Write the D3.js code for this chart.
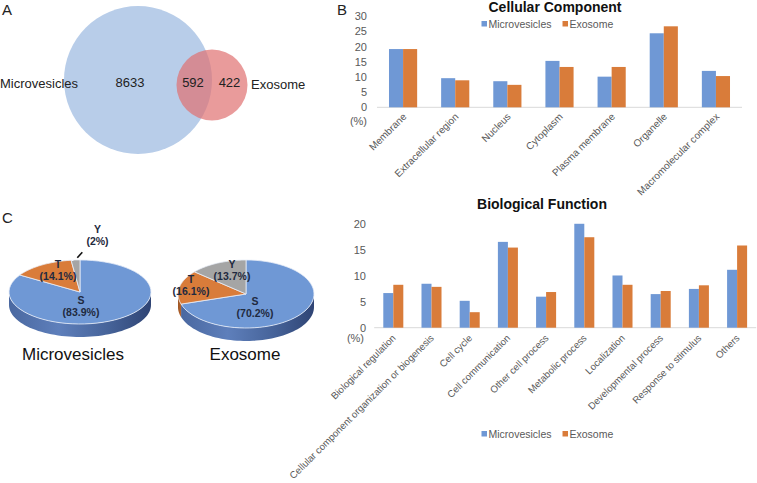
<!DOCTYPE html>
<html>
<head>
<meta charset="utf-8">
<script src="https://cdn.jsdelivr.net/npm/d3@7/dist/d3.min.js"></script>
<style>
  html, body { margin: 0; padding: 0; background: #fff; }
  svg { display: block; font-family: "Liberation Sans", Arial, sans-serif; }
</style>
</head>
<body>
<svg id="chart" width="757" height="483"></svg>
<script>
// ---------------- DATA ----------------
const vennSetNames = ["Microvesicles", "Exosome"];
const vennCounts = [8633, 592, 422]; // only microvesicles, shared, only exosome

const seriesNames = ["Microvesicles", "Exosome"];

const ccCategories = ["Membrane", "Extracellular region", "Nucleus", "Cytoplasm", "Plasma membrane", "Organelle", "Macromolecular complex"];
const ccMicro = [19.2, 9.6, 8.6, 15.3, 10.1, 24.4, 12.0];
const ccExo   = [19.2, 8.9, 7.4, 13.3, 13.3, 26.7, 10.3];
const ccTicks = [0, 5, 10, 15, 20, 25, 30];

const bfCategories = ["Biological regulation", "Cellular component organization or biogenesis", "Cell cycle", "Cell communication", "Other cell process", "Metabolic process", "Localization", "Developmental process", "Response to stimulus", "Others"];
const bfMicro = [6.7, 8.5, 5.2, 16.6, 6.0, 20.1, 10.1, 6.5, 7.5, 11.2];
const bfExo   = [8.3, 7.9, 3.0, 15.5, 6.9, 17.5, 8.3, 7.1, 8.2, 15.9];
const bfTicks = [0, 5, 10, 15, 20];

const pieLabels = ["S", "T", "Y"];
const pieMicro = [83.9, 14.1, 2];
const pieExo = [70.2, 16.1, 13.7];
const pieTitles = ["Microvesicles", "Exosome"];

// ---------------- STYLE ----------------
const BLUE = "#6f98d5", ORANGE = "#d97c3a", GRAY = "#a5a5a5";
const TXT = "#595959";
const svg = d3.select("#chart");

// panel letters
[["A", 2, 15], ["B", 337, 15], ["C", 2, 223]].forEach(([t, x, y]) => {
  svg.append("text").attr("x", x).attr("y", y).attr("font-size", 15).attr("fill", "#222").text(t);
});

// ---------------- VENN ----------------
(function () {
  const g = svg.append("g");
  const big = { cx: 138, cy: 80, r: 74 }, small = { cx: 212, cy: 85, r: 35.5 };
  g.append("circle").attr("cx", big.cx).attr("cy", big.cy).attr("r", big.r).attr("fill", "#b8cde9");
  g.append("circle").attr("cx", small.cx).attr("cy", small.cy).attr("r", small.r).attr("fill", "#e07070").attr("fill-opacity", 0.7);
  const fs = 13;
  g.append("text").attr("x", 0).attr("y", 88).attr("font-size", fs).attr("fill", "#222").text(vennSetNames[0]);
  g.append("text").attr("x", 251).attr("y", 89).attr("font-size", fs).attr("fill", "#222").text(vennSetNames[1]);
  const numX = [130, 193, 229.5];
  vennCounts.forEach((v, i) => {
    g.append("text").attr("x", numX[i]).attr("y", 87).attr("text-anchor", "middle")
      .attr("font-size", fs).attr("fill", "#222").text(d3.format("d")(v));
  });
})();

// ---------------- BAR CHART helper ----------------
function barChart(opts) {
  const g = svg.append("g");
  const x = d3.scaleBand().domain(opts.categories).range(opts.xRange)
    .paddingInner(opts.padInner).paddingOuter(opts.padInner / 2);
  const xs = d3.scaleBand().domain(seriesNames).range([0, x.bandwidth()]);
  const y = d3.scaleLinear().domain([0, opts.yMax]).range(opts.yRange);

  // axis line
  g.append("line").attr("x1", opts.xRange[0]).attr("x2", opts.xRange[1])
    .attr("y1", y(0)).attr("y2", y(0)).attr("stroke", "#d9d9d9").attr("stroke-width", 1);

  // y ticks
  const yAxis = d3.axisLeft(y).tickValues(opts.ticks).tickSize(0).tickPadding(0);
  const ya = g.append("g").attr("transform", `translate(${opts.tickRight},0)`).call(yAxis);
  ya.select(".domain").remove();
  ya.selectAll("text").attr("font-size", 11).attr("fill", TXT).attr("font-family", "Liberation Sans, Arial, sans-serif");

  // (%)
  g.append("text").attr("x", opts.pctX).attr("y", opts.pctY).attr("text-anchor", "end")
    .attr("font-size", 11).attr("fill", TXT).text("(%)");

  // bars
  const rows = opts.categories.map((c, i) => ({ c, vals: [opts.a[i], opts.b[i]] }));
  const colors = [BLUE, ORANGE];
  const grp = g.selectAll(".grp").data(rows).enter().append("g")
    .attr("transform", d => `translate(${x(d.c)},0)`);
  grp.selectAll("rect").data(d => d.vals.map((v, k) => ({ s: seriesNames[k], v, k }))).enter().append("rect")
    .attr("x", d => xs(d.s)).attr("width", xs.bandwidth())
    .attr("y", d => y(d.v)).attr("height", d => y(0) - y(d.v))
    .attr("fill", d => colors[d.k]);

  // category labels
  g.selectAll(".cat").data(opts.categories).enter().append("text")
    .attr("transform", d => `translate(${x(d) + x.bandwidth() / 2 + opts.labDx},${y(0) + opts.labDy}) rotate(-45)`)
    .attr("text-anchor", "end").attr("font-size", opts.labFs).attr("fill", TXT).text(d => d);

  // title
  g.append("text").attr("x", opts.titleX).attr("y", opts.titleY).attr("text-anchor", "middle")
    .attr("font-size", 14).attr("font-weight", "bold").attr("fill", "#111").text(opts.title);

  // legend
  let lx = opts.legX;
  seriesNames.forEach((s, k) => {
    g.append("rect").attr("x", lx).attr("y", opts.legY - 6.5).attr("width", 5.5).attr("height", 5.5).attr("fill", colors[k]);
    const t = g.append("text").attr("x", lx + 7).attr("y", opts.legY).attr("font-size", 10.5).attr("fill", TXT).text(s);
    lx += 7 + t.node().getComputedTextLength() + 11;
  });
}

barChart({
  categories: ccCategories, a: ccMicro, b: ccExo, ticks: ccTicks, yMax: 30,
  xRange: [377, 742], yRange: [107.3, 16.3], padInner: 0.46,
  tickRight: 367, pctX: 367, pctY: 125, labDx: 4, labDy: 10, labFs: 10,
  title: "Cellular Component", titleX: 555, titleY: 12,
  legX: 481.5, legY: 27.5
});

barChart({
  categories: bfCategories, a: bfMicro, b: bfExo, ticks: bfTicks, yMax: 20,
  xRange: [374.2, 756.2], yRange: [327.7, 224.3], padInner: 0.476,
  tickRight: 366, pctX: 364, pctY: 342, labDx: 3, labDy: 11, labFs: 9.7,
  title: "Biological Function", titleX: 542, titleY: 209,
  legX: 481.5, legY: 437.5
});

// ---------------- 3D PIES ----------------
const defs = svg.append("defs");
function sideGrad(id, stops) {
  const lg = defs.append("linearGradient").attr("id", id).attr("x1", "0%").attr("x2", "100%").attr("y1", "0%").attr("y2", "0%");
  stops.forEach(([o, c]) => lg.append("stop").attr("offset", o).attr("stop-color", c));
}
sideGrad("sideBlue", [["0%", "#4a68a0"], ["35%", "#5e7fbb"], ["70%", "#466399"], ["100%", "#2f4474"]]);
sideGrad("sideOrange", [["0%", "#9c5524"], ["100%", "#b8652c"]]);
sideGrad("sideGray", [["0%", "#7d7d7d"], ["100%", "#8e8e8e"]]);
const pieColors = [BLUE, ORANGE, GRAY];
const sideFills = ["url(#sideBlue)", "url(#sideOrange)", "url(#sideGray)"];

function pie3D(values, P) {
  const g = svg.append("g");
  const arcs = d3.pie().sort(null).startAngle(0).endAngle(2 * Math.PI)(values);
  const pt = (a, dy = 0) => [P.cx + P.rx * Math.sin(a), P.cy - P.ry * Math.cos(a) + dy];
  const N = 60;
  // sides (front half: angles between PI/2 and 3PI/2)
  arcs.forEach((d, i) => {
    const a0 = Math.max(d.startAngle, Math.PI / 2), a1 = Math.min(d.endAngle, 3 * Math.PI / 2);
    if (a1 <= a0) return;
    const top = d3.range(N + 1).map(k => pt(a0 + (a1 - a0) * k / N));
    const bot = d3.range(N + 1).map(k => pt(a1 - (a1 - a0) * k / N, P.depth));
    g.append("path").attr("d", "M" + top.concat(bot).map(p => p.join(",")).join("L") + "Z")
      .attr("fill", sideFills[i]);
  });
  // top faces
  arcs.forEach((d, i) => {
    const pts = [[P.cx, P.cy]].concat(d3.range(N + 1).map(k => pt(d.startAngle + (d.endAngle - d.startAngle) * k / N)));
    g.append("path").attr("d", "M" + pts.map(p => p.join(",")).join("L") + "Z")
      .attr("fill", pieColors[i]).attr("stroke", "#e8eef8").attr("stroke-width", 0.8).attr("stroke-linejoin", "round");
  });
  // labels
  arcs.forEach((d, i) => {
    const [lx, ly] = P.labels[i];
    const t = g.append("text").attr("text-anchor", "middle").attr("font-size", 10.5)
      .attr("font-weight", "bold").attr("fill", "#1f2a40");
    t.append("tspan").attr("x", P.cx + lx).attr("y", P.cy + ly).text(pieLabels[i]);
    t.append("tspan").attr("x", P.cx + lx).attr("y", P.cy + ly + 12).text("(" + d3.format("~")(d.data) + "%)");
  });
  if (P.leader) {
    g.append("line").attr("x1", P.cx + P.leader[0]).attr("y1", P.cy + P.leader[1])
      .attr("x2", P.cx + P.leader[2]).attr("y2", P.cy + P.leader[3]).attr("stroke", "#111").attr("stroke-width", 1.6);
  }
  g.append("text").attr("x", P.cx + P.titleDx).attr("y", 360).attr("text-anchor", "middle")
    .attr("font-size", 17).attr("fill", "#111").text(P.title);
}

pie3D(pieMicro, {
  cx: 80, cy: 292, rx: 71, ry: 32, depth: 13, title: pieTitles[0], titleDx: -7,
  labels: [[1, 12], [-22, -24], [17.5, -59]],
  leader: [-2.7, -34.3, 2.3, -39.7]
});
pie3D(pieExo, {
  cx: 246, cy: 294, rx: 68, ry: 34, depth: 13, title: pieTitles[1], titleDx: -1,
  labels: [[9, 11], [-55, -11.5], [-14, -26]]
});
</script>
</body>
</html>
